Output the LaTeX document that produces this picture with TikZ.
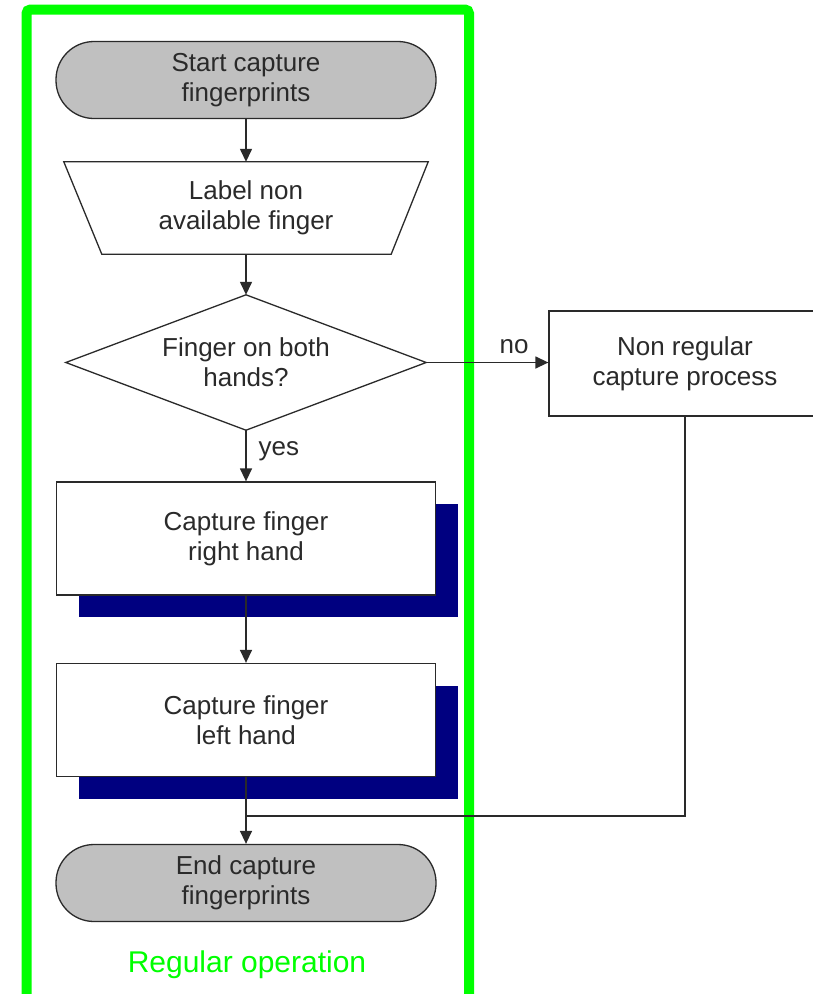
\documentclass[tikz,border=0pt]{standalone}
\usepackage{fontspec}
\setmainfont{Liberation Sans}
\usetikzlibrary{arrows.meta,shadows,calc}
\definecolor{termgray}{HTML}{C0C0C0}
\definecolor{shadownavy}{HTML}{000080}
\definecolor{framegreen}{HTML}{00FF00}
\definecolor{inkgray}{HTML}{2A2A2A}
\tikzset{
  txt/.style={font=\fontsize{26}{30}\selectfont, text=inkgray, align=center},
  terminal/.style={txt, draw=inkgray, line width=1.3pt, fill=termgray, rounded corners=38pt,
    minimum width=380pt, minimum height=77pt, inner sep=0pt},
  procbox/.style={txt, draw=inkgray, line width=1.3pt, fill=white, minimum width=379pt,
    minimum height=113pt, inner sep=0pt},
  shadowed/.style={drop shadow={shadow xshift=22pt, shadow yshift=-22pt, fill=shadownavy, opacity=1}},
  helper/.style={txt, minimum width=#1, inner sep=0pt},
  outline/.style={draw=inkgray, line width=1.3pt, fill=white},
  flow/.style={draw=inkgray, line width=1.4pt, -{Triangle[length=13pt,width=12pt]}},
  plain/.style={draw=inkgray, line width=1.4pt},
  lbl/.style={font=\fontsize{26}{30}\selectfont, text=inkgray, inner sep=0pt}
}
\begin{document}
\begin{tikzpicture}[x=1pt,y=-1pt]
\useasboundingbox (0,0) rectangle (812,994);
\fill[white] (0,0) rectangle (812,994);
% frame
\draw[framegreen, line width=10pt, rounded corners=4pt] (26.5,9.5) rectangle (469,1000);
\node[font=\fontsize{30}{34}\selectfont, text=framegreen, inner sep=0pt] (reglbl) at (247,965) {Regular operation};
% nodes
\node[terminal] (start) at (246,80) {Start capture\\fingerprints};
\node[helper=364pt, minimum height=92pt] (lab) at (246,208) {};
\draw[outline] (lab.north west) -- (lab.north east) -- ([xshift=-37pt]lab.south east) -- ([xshift=38pt]lab.south west) -- cycle;
\node[txt] at (lab.center) {Label non\\available finger};
\node[helper=360pt, minimum height=135pt] (dec) at (246,362.5) {};
\draw[outline] (dec.north) -- (dec.east) -- (dec.south) -- (dec.west) -- cycle;
\node[txt] at (dec.center) {Finger on both\\hands?};
\node[procbox, shadowed] (rh) at (246,538.5) {Capture finger\\right hand};
\node[procbox, shadowed] (lh) at (246,720) {Capture finger\\left hand};
\node[terminal] (en) at (246,883) {End capture\\fingerprints};
\node[procbox, minimum width=272pt, minimum height=105pt] (nr) at (685,363.5) {Non regular\\capture process};
\coordinate (merge) at (246,816);
% connectors
\draw[flow] (start) -- (lab);
\draw[flow] (lab.south -| start.south) -- (dec.north);
\draw[flow] (dec.south) -- node[lbl, right=12pt, pos=0.42] (yes) {yes} (rh.north);
\draw[flow] (dec.east) -- node[lbl, above=8pt, pos=0.72] (no) {no} (dec.east -| nr.west);
\draw[flow] (rh.south) -- (lh.north);
\draw[flow] (lh.south) -- (en.north);
\draw[plain] (nr.south) |- (merge);
\end{tikzpicture}
\end{document}
